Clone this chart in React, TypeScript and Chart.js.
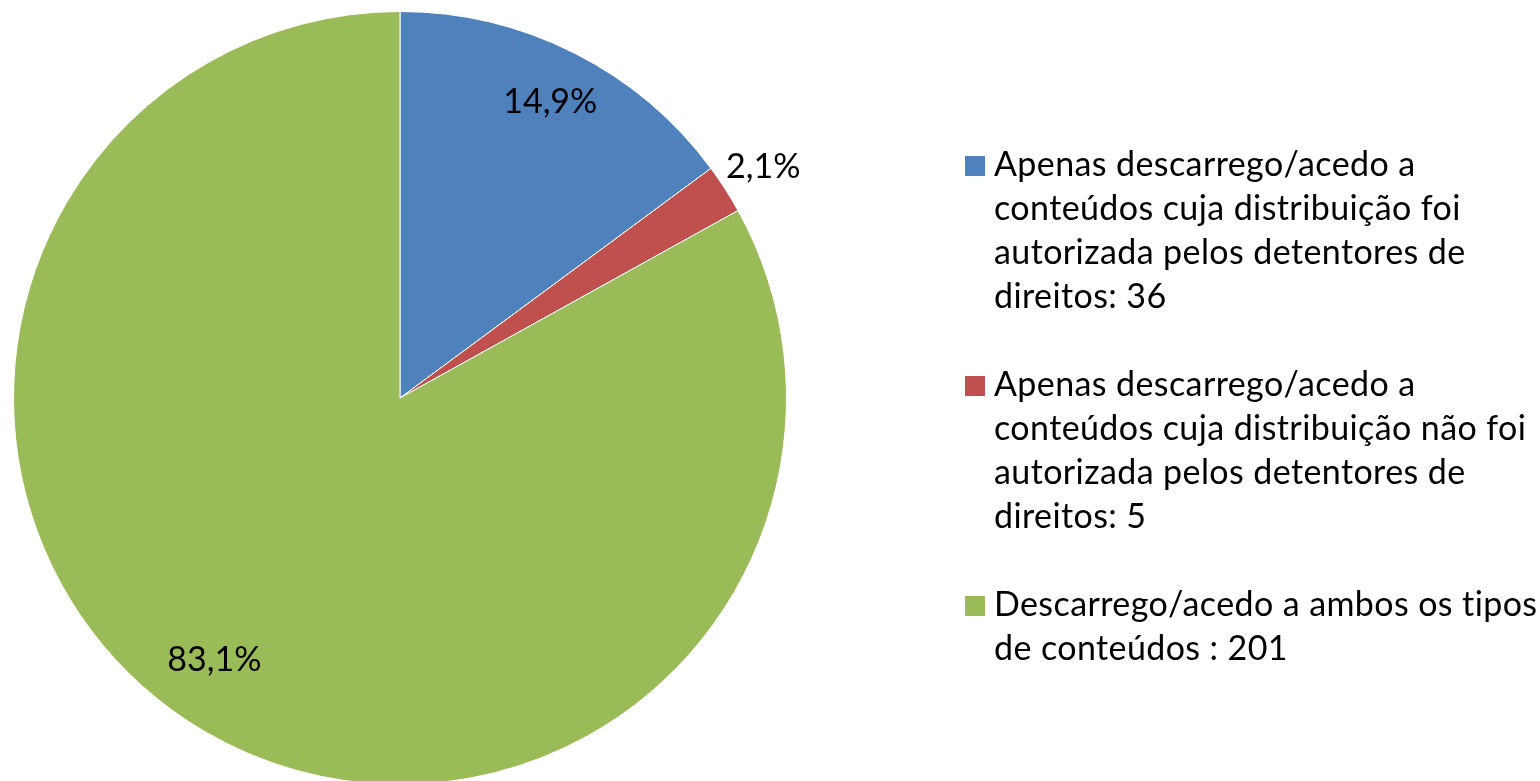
import React, { useEffect, useRef } from "react";
import { Chart, registerables } from "chart.js";

Chart.register(...registerables);

const CATEGORIES: string[] = [
  "Apenas descarrego/acedo a conteúdos cuja distribuição foi autorizada pelos detentores de direitos: 36",
  "Apenas descarrego/acedo a conteúdos cuja distribuição não foi autorizada pelos detentores de direitos: 5",
  "Descarrego/acedo a ambos os tipos de conteúdos : 201",
];

const LEGEND_LINES: string[][] = [
  ["Apenas descarrego/acedo a", "conteúdos cuja distribuição foi", "autorizada pelos detentores de", "direitos: 36"],
  ["Apenas descarrego/acedo a", "conteúdos cuja distribuição não foi", "autorizada pelos detentores de", "direitos: 5"],
  ["Descarrego/acedo a ambos os tipos", "de conteúdos : 201"],
];

const VALUES: number[] = [36, 5, 201];
const COLORS: string[] = ["#4F81BD", "#C0504D", "#9BBB59"];

// label placement relative to each slice (radius factor, angle shift in degrees)
const LABEL_RADIUS: number[] = [0.863, 1.117, 0.827];
const LABEL_SHIFT: number[] = [0, 0, 5];

const FONT = "Lato, 'Open Sans', sans-serif";

const W = 1540;
const H = 800;

const pctLabels = {
  id: "pctLabels",
  afterDatasetsDraw(chart: any) {
    const ctx = chart.ctx;
    const meta = chart.getDatasetMeta(0);
    const data = chart.data.datasets[0].data as number[];
    const total = data.reduce((a, b) => a + b, 0);
    ctx.save();
    ctx.fillStyle = "#000";
    ctx.font = `34px ${FONT}`;
    ctx.textAlign = "center";
    ctx.textBaseline = "alphabetic";
    meta.data.forEach((arc: any, i: number) => {
      const p = arc.getProps(["x", "y", "startAngle", "endAngle", "outerRadius"], true);
      const mid = (p.startAngle + p.endAngle) / 2 + (LABEL_SHIFT[i] * Math.PI) / 180;
      const r = p.outerRadius * LABEL_RADIUS[i];
      const cx = p.x + Math.cos(mid) * r;
      const cy = p.y + Math.sin(mid) * r;
      const txt = ((data[i] / total) * 100).toFixed(1).replace(".", ",") + "%";
      ctx.fillText(txt, cx, cy + 13);
    });
    ctx.restore();
  },
};

const sideLegend = {
  id: "sideLegend",
  afterDraw(chart: any) {
    const ctx = chart.ctx;
    const colors = chart.data.datasets[0].backgroundColor as string[];
    ctx.save();
    ctx.font = `34px ${FONT}`;
    try {
      (ctx as any).letterSpacing = "0.4px";
    } catch (e) {}
    ctx.textAlign = "left";
    ctx.textBaseline = "alphabetic";
    const lineH = 44;
    let baseline = 176;
    LEGEND_LINES.forEach((lines, i) => {
      ctx.fillStyle = colors[i];
      ctx.fillRect(965, Math.round(baseline - 20), 20, 20);
      ctx.fillStyle = "#000";
      lines.forEach((ln, j) => {
        ctx.fillText(ln, 994, baseline + j * lineH);
      });
      baseline += (lines.length + 1) * lineH;
    });
    ctx.restore();
  },
};

export default function App() {
  const ref = useRef<HTMLCanvasElement | null>(null);

  useEffect(() => {
    document.body.style.margin = "0";
    const canvas = ref.current;
    if (!canvas) return;
    const chart = new Chart(canvas, {
      type: "pie",
      data: {
        labels: CATEGORIES,
        datasets: [
          {
            data: VALUES,
            backgroundColor: COLORS,
            borderColor: "#ffffff",
            borderWidth: 1,
          },
        ],
      },
      options: {
        responsive: false,
        animation: false,
        layout: { padding: { left: 13, top: 11, right: W - 787, bottom: H - 785 } },
        plugins: {
          legend: { display: false },
          tooltip: { enabled: false },
        },
      },
      plugins: [pctLabels, sideLegend],
    });
    return () => chart.destroy();
  }, []);

  return (
    <div style={{ position: "fixed", left: 0, top: 0, width: W, height: H, background: "#fff" }}>
      <canvas ref={ref} width={W} height={H} style={{ display: "block", width: W, height: H }} />
    </div>
  );
}
